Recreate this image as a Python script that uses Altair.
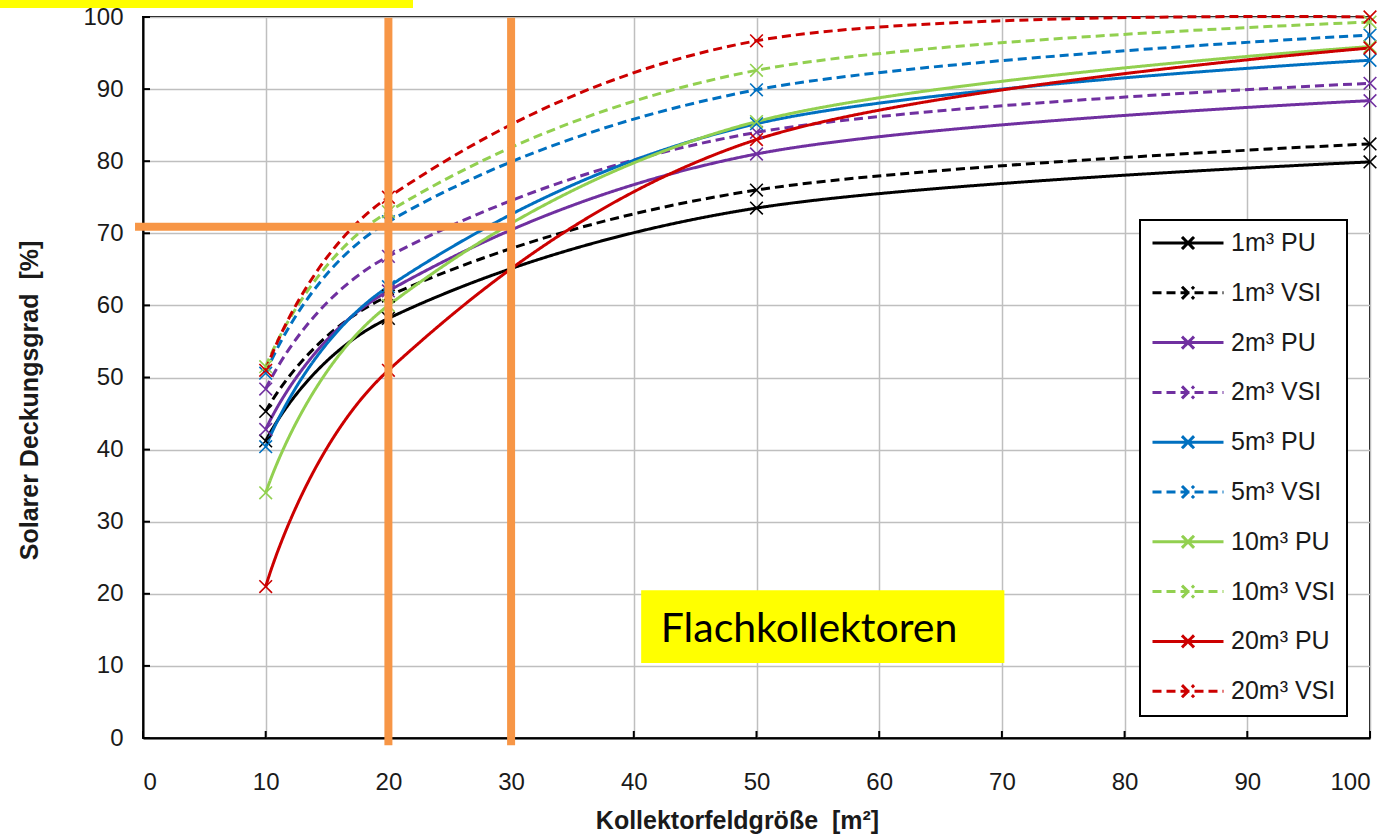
import altair as alt
import pandas as pd

# ---------------- data ----------------
x_vals = [10, 20, 50, 100]
series_names = ["1m³ PU", "1m³ VSI", "2m³ PU", "2m³ VSI", "5m³ PU",
                "5m³ VSI", "10m³ PU", "10m³ VSI", "20m³ PU", "20m³ VSI"]
pu_1 = [41.2, 58.2, 73.5, 79.9]
vsi_1 = [45.3, 61.3, 76.0, 82.4]
pu_2 = [42.8, 62.0, 81.0, 88.4]
vsi_2 = [48.4, 66.8, 84.0, 90.8]
pu_5 = [40.4, 62.6, 85.2, 94.0]
vsi_5 = [50.6, 71.6, 89.9, 97.5]
pu_10 = [34.0, 60.0, 85.5, 95.9]
vsi_10 = [51.5, 73.0, 92.6, 99.3]
pu_20 = [21.0, 51.0, 83.0, 95.7]
vsi_20 = [51.0, 75.0, 96.7, 100.0]
series_values = [pu_1, vsi_1, pu_2, vsi_2, pu_5, vsi_5, pu_10, vsi_10, pu_20, vsi_20]

x_ticks = [0, 10, 20, 30, 40, 50, 60, 70, 80, 90, 100]
y_ticks = [0, 10, 20, 30, 40, 50, 60, 70, 80, 90, 100]

# ---------------- styles ----------------
BLACK, PURPLE, BLUE, GREEN, RED = "#000000", "#7030A0", "#0070C0", "#92D050", "#CC0000"
series_colors = [BLACK, BLACK, PURPLE, PURPLE, BLUE, BLUE, GREEN, GREEN, RED, RED]
SOLID, DASH = [1, 0], [9, 5]
series_dashes = [SOLID, DASH] * 5
ORANGE = "#F79646"
YELLOW = "#FFFF00"
FONT = "Liberation Sans"

PLOT_W, PLOT_H = 1227, 721

rows = []
for name, vals, col in zip(series_names, series_values, series_colors):
    for xv, yv in zip(x_vals, vals):
        rows.append({"series": name, "x": xv, "y": yv, "hex": col})
df = pd.DataFrame(rows)

X_MARK = "M-1,-1L1,1M-1,1L1,-1"
LEG_SYMBOL = "M-1,0H1M-0.17,-0.17L0.17,0.17M-0.17,0.17L0.17,-0.17"

legend = alt.Legend(
    title=None, orient="none", legendX=997, legendY=203,
    symbolType=LEG_SYMBOL, symbolSize=71 * 71, symbolStrokeWidth=3,
    symbolFillColor="transparent",
    labelFont=FONT, labelFontSize=25, labelColor="#1a1a1a", labelOffset=6,
    clipHeight=24, rowPadding=24.8, padding=11,
    strokeColor="black", fillColor="white",
)

x_enc = alt.X(
    "x:Q",
    scale=alt.Scale(domain=[0, 100], nice=False, zero=False),
    axis=alt.Axis(
        values=x_ticks, format="d", ticks=False, labelPadding=32,
        labelFont=FONT, labelFontSize=24, labelColor="#1a1a1a",
        domainColor="black", domainWidth=2,
        grid=True, gridColor="#BFBFBF", gridWidth=1.5,
        title="Kollektorfeldgröße \u00a0[m²]", titleFont=FONT, titleFontSize=25,
        titleFontWeight="bold", titleColor="#1a1a1a",
        titleX=594, titleY=90, titleBaseline="alphabetic",
    ),
)
y_enc = alt.Y(
    "y:Q",
    scale=alt.Scale(domain=[0, 100], nice=False),
    axis=alt.Axis(
        values=y_ticks, format="d", ticks=False, labelPadding=20,
        labelFont=FONT, labelFontSize=24, labelColor="#1a1a1a",
        domainColor="black", domainWidth=2,
        grid=True, gridColor="#BFBFBF", gridWidth=1.5,
        title="Solarer Deckungsgrad \u00a0[%]", titleFont=FONT, titleFontSize=25,
        titleFontWeight="bold", titleColor="#1a1a1a",
        titleX=-101, titleY=383, titleAngle=270, titleBaseline="bottom",
        titleAlign="center",
    ),
)

lines = alt.Chart(df).mark_line(interpolate="cardinal", strokeWidth=3).encode(
    x=x_enc,
    y=y_enc,
    color=alt.Color("series:N", scale=alt.Scale(domain=series_names, range=series_colors),
                    legend=legend),
    strokeDash=alt.StrokeDash("series:N",
                              scale=alt.Scale(domain=series_names, range=series_dashes),
                              legend=legend),
)

points = alt.Chart(df).mark_point(shape=X_MARK, size=160, filled=False,
                                  strokeWidth=1.6, opacity=1).encode(
    x="x:Q", y="y:Q",
    color=alt.Color("hex:N", scale=None),
)

# inward axis ticks
ytick_df = pd.DataFrame({"v": y_ticks})
xtick_df = pd.DataFrame({"v": x_ticks})
yticks = alt.Chart(ytick_df).mark_rule(color="black", strokeWidth=2).encode(
    y="v:Q", x=alt.value(0), x2=alt.value(7))
xticks = alt.Chart(xtick_df).mark_rule(color="black", strokeWidth=2).encode(
    x="v:Q", y=alt.value(PLOT_H), y2=alt.value(PLOT_H - 7))

# annotations
vlines = alt.Chart(pd.DataFrame({"x": [20, 30], "y1": [-1.0, -1.0], "y2": [99.9, 99.9]})) \
    .mark_rule(color=ORANGE, strokeWidth=8, strokeCap="butt").encode(
        x="x:Q", y="y1:Q", y2="y2:Q")
hline = alt.Chart(pd.DataFrame({"x1": [-0.65], "x2": [30.3], "y": [70.9]})) \
    .mark_rule(color=ORANGE, strokeWidth=8, strokeCap="butt").encode(
        x="x1:Q", x2="x2:Q", y="y:Q")

box = alt.Chart(pd.DataFrame({"x1": [40.6], "x2": [70.2], "y1": [10.4], "y2": [20.5]})) \
    .mark_rect(color=YELLOW).encode(x="x1:Q", x2="x2:Q", y="y1:Q", y2="y2:Q")
box_text = alt.Chart(pd.DataFrame({"x": [42.2], "y": [13.3], "t": ["Flachkollektoren"]})) \
    .mark_text(font="Lato", fontSize=41, align="left", baseline="alphabetic", color="black") \
    .encode(x="x:Q", y="y:Q", text="t:N")

top_bar = alt.Chart(pd.DataFrame({"a": [0]})).mark_rect(color=YELLOW).encode(
    x=alt.value(-143), x2=alt.value(270), y=alt.value(-17), y2=alt.value(-9))

chart = alt.layer(
    box, yticks, xticks, lines, points, vlines, hline, box_text, top_bar
).properties(
    width=PLOT_W, height=PLOT_H,
    padding={"left": 143, "top": 17, "right": 30, "bottom": 96},
    autosize=alt.AutoSizeParams(type="none"),
    background="white",
).configure_view(stroke="black", strokeWidth=2).configure_legend(strokeWidth=2)

chart.save("out.html", embed_options={"renderer": "svg", "actions": False})
